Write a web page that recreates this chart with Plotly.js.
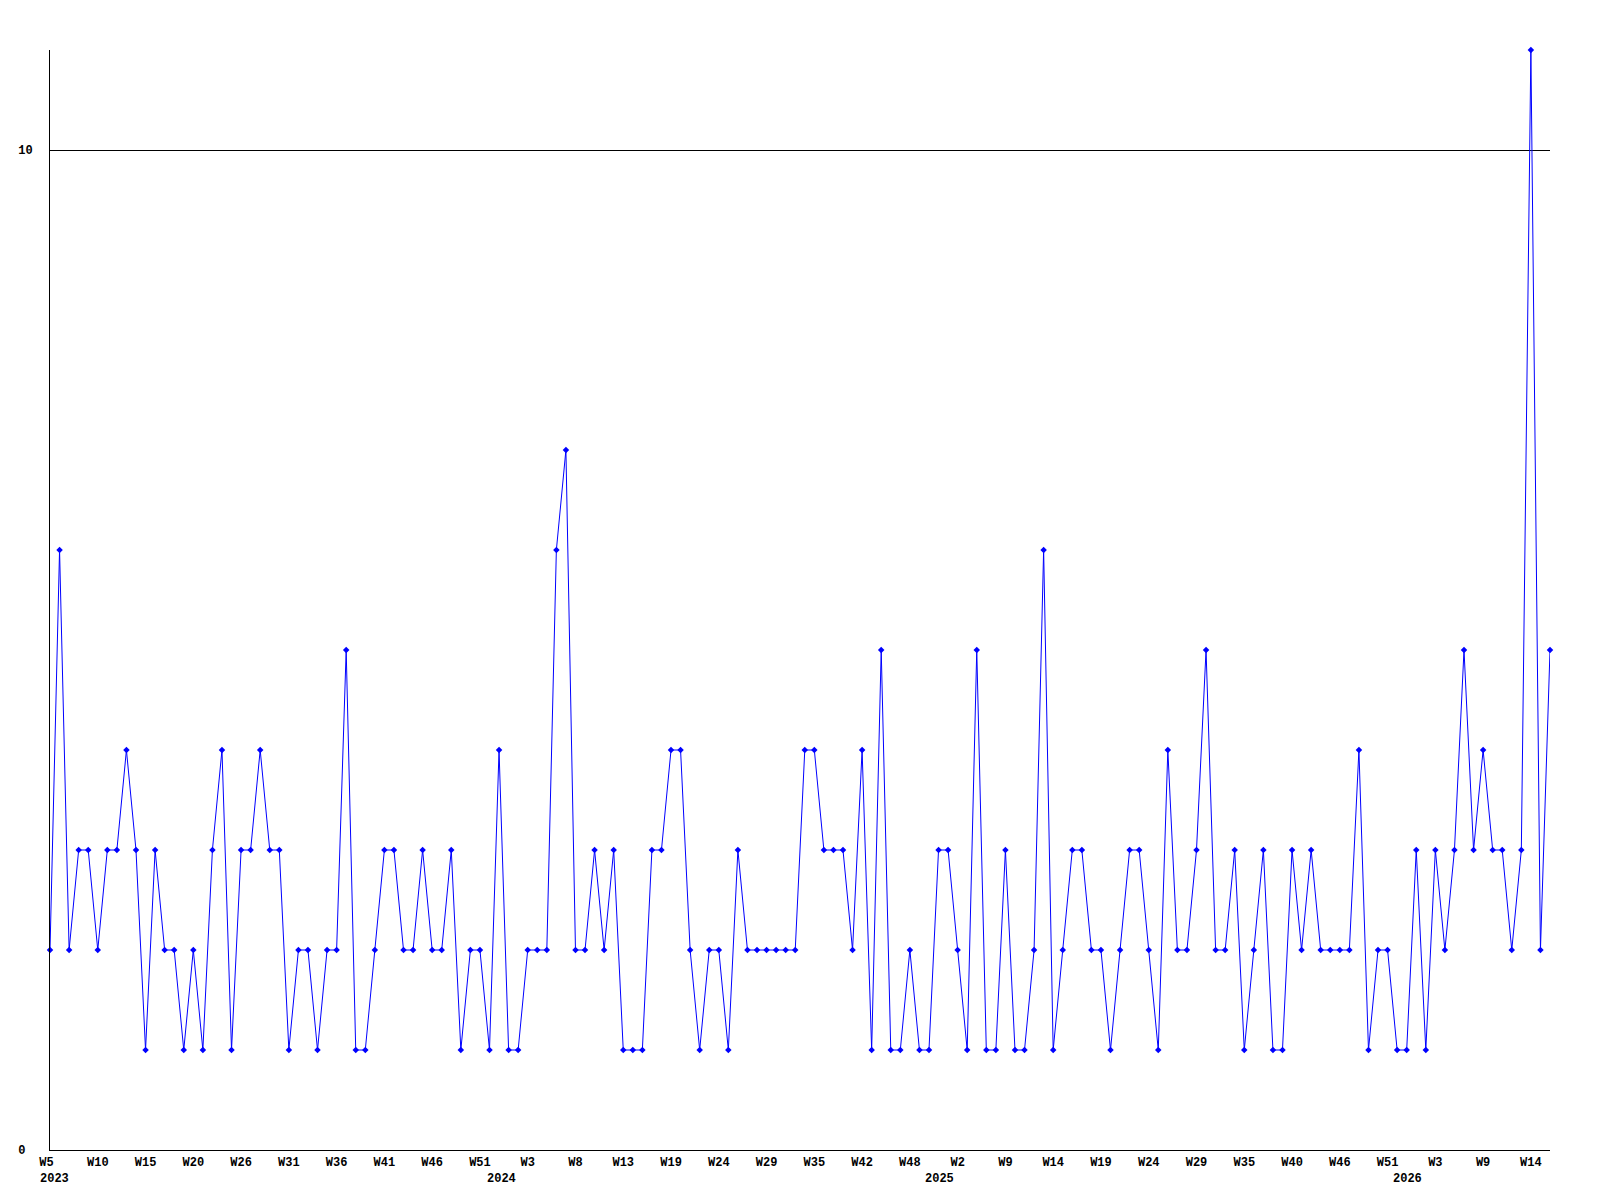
<!DOCTYPE html>
<html>
<head>
<meta charset="utf-8">
<script src="https://cdn.plot.ly/plotly-3.0.1.min.js"></script>
<style>
  html, body { margin: 0; padding: 0; background: #ffffff; }
  #chart { width: 1600px; height: 1200px; }
</style>
</head>
<body>
<div id="chart"></div>
<script>
// Series values, one per data point (left to right)
const values = [
  2,6,2,3,3,2,3,3,4,3,1,3,2,2,1,2,1,3,4,1,3,3,4,3,3,1,2,
  2,1,2,2,5,1,1,2,3,3,2,2,3,2,2,3,1,2,2,1,4,1,1,2,2,2,
  6,7,2,2,3,2,3,1,1,1,3,3,4,4,2,1,2,2,1,3,2,2,2,2,2,2,
  4,4,3,3,3,2,4,1,5,1,1,2,1,1,3,3,2,1,5,1,1,3,1,1,2,6,
  1,2,3,3,2,2,1,2,3,3,2,1,4,2,2,3,5,2,2,3,1,2,3,1,1,3,
  2,3,2,2,2,2,4,1,2,2,1,1,3,1,3,2,3,5,3,4,3,3,2,3,11,2,5
];

// Week tick labels, one every 5 data points
const weekLabels = ["W5","W10","W15","W20","W26","W31","W36","W41","W46","W51",
  "W3","W8","W13","W19","W24","W29","W35","W42","W48",
  "W2","W9","W14","W19","W24","W29","W35","W40","W46","W51",
  "W3","W9","W14"];

// Year labels and the week-tick (index into weekLabels) they sit by
const yearLabels = ["2023","2024","2025","2026"];
const yearTickIndex = [0, 10, 19, 29];

const yTickValues = [0, 10];
const yTickLabels = ["0", "10"];

const TICK_STEP = 5;
const xIdx = values.map((v, i) => i);
const tickvals = weekLabels.map((w, i) => i * TICK_STEP);

const font = { family: "Liberation Mono, DejaVu Sans Mono, monospace", size: 12, color: "#000000" };

const yearShift = [-12, -10, -2, -11];
const annotations = yearLabels.map((y, k) => ({
  text: "<b>" + y + "</b>",
  xref: "x", yref: "paper",
  x: tickvals[yearTickIndex[k]],
  y: 0,
  xanchor: k === 0 ? "left" : "right",
  yanchor: "middle",
  xshift: yearShift[k],
  yshift: -29,
  showarrow: false,
  font: font
}));

const trace = {
  type: "scatter",
  mode: "lines+markers",
  x: xIdx,
  y: values,
  line: { color: "#0000ff", width: 1 },
  marker: { color: "#0000ff", size: 5, symbol: "diamond" },
  cliponaxis: false,
  hoverinfo: "y"
};

const layout = {
  width: 1600, height: 1200,
  paper_bgcolor: "#ffffff", plot_bgcolor: "#ffffff",
  margin: { l: 50, r: 50, t: 50, b: 50 },
  showlegend: false,
  font: font,
  xaxis: {
    range: [0, values.length - 1],
    tickmode: "array",
    tickvals: tickvals,
    ticktext: weekLabels.map((w, i) => "<b>" + w + "</b>" + (i === 0 ? "&nbsp;" : "")),
    showgrid: false,
    zeroline: false,
    showline: true, linecolor: "#000000", linewidth: 1,
    ticks: "", ticklabelstandoff: 1,
    tickfont: font
  },
  yaxis: {
    range: [0, 11],
    tickmode: "array",
    tickvals: yTickValues,
    ticktext: yTickLabels.map(v => "<b>" + v + "</b>" + (v.length < 2 ? "&nbsp;" : "")),
    showgrid: true, gridcolor: "#000000", gridwidth: 1,
    zeroline: false,
    showline: true, linecolor: "#000000", linewidth: 1,
    ticks: "", ticklabelstandoff: 14,
    tickfont: font
  },
  annotations: annotations
};

Plotly.newPlot("chart", [trace], layout, { displayModeBar: false, staticPlot: true });
</script>
</body>
</html>
